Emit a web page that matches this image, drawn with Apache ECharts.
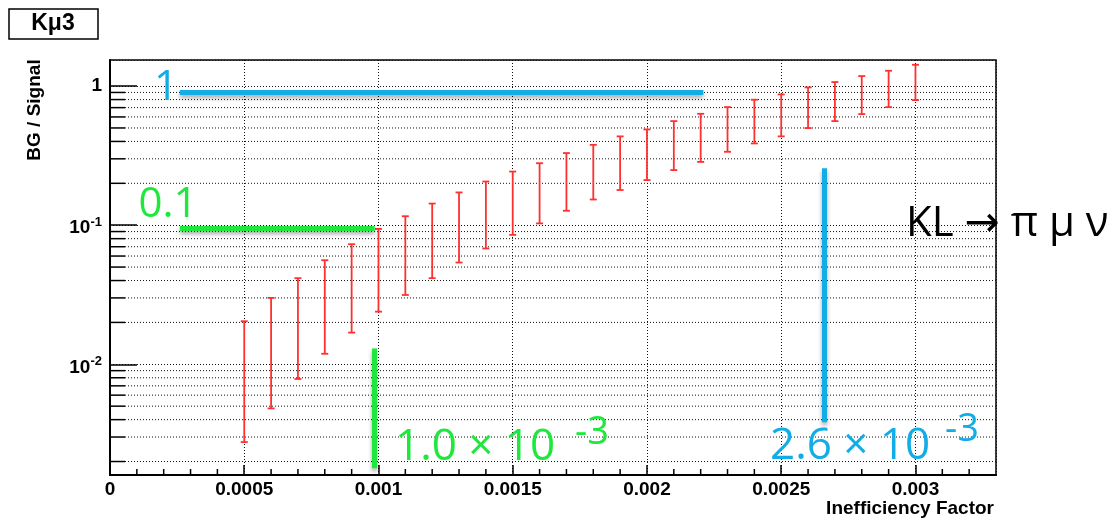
<!DOCTYPE html>
<html><head><meta charset="utf-8">
<script src="https://cdn.jsdelivr.net/npm/echarts@6/dist/echarts.min.js"></script>
<style>html,body{margin:0;padding:0;background:#fff}#c{width:1112px;height:518px}</style>
</head><body><div id="c"></div>
<script>
// ---- data ----
const xValues = [0.0005,0.0006,0.0007,0.0008,0.0009,0.0010,0.0011,0.0012,0.0013,0.0014,0.0015,0.0016,0.0017,
                 0.0018,0.0019,0.0020,0.0021,0.0022,0.0023,0.0024,0.0025,0.0026,0.0027,0.0028,0.0029,0.0030];
const errLow  = [0.00276,0.00482,0.00784,0.0119,0.0169,0.0239,0.0315,0.0416,0.0539,0.0680,0.0852,0.103,0.127,
                 0.153,0.179,0.211,0.249,0.285,0.337,0.387,0.435,0.499,0.560,0.629,0.706,0.793];
const errHigh = [0.0204,0.0300,0.0416,0.0560,0.0730,0.0940,0.116,0.143,0.172,0.206,0.243,0.279,0.330,
                 0.378,0.435,0.488,0.560,0.632,0.706,0.798,0.871,0.979,1.069,1.180,1.289,1.423];
const yMinorGrid = [0.002,0.003,0.004,0.005,0.006,0.007,0.008,0.009,
                    0.02,0.03,0.04,0.05,0.06,0.07,0.08,0.09,
                    0.2,0.3,0.4,0.5,0.6,0.7,0.8,0.9];
const xMinorTicks = [0.0001,0.0002,0.0003,0.0004,0.0006,0.0007,0.0008,0.0009,0.0011,0.0012,0.0013,0.0014,
                     0.0016,0.0017,0.0018,0.0019,0.0021,0.0022,0.0023,0.0024,0.0026,0.0027,0.0028,0.0029,
                     0.0031,0.0032];
// annotation lines (data coordinates)
const blueHLine  = [[0.00026, 0.90], [0.00221, 0.90]];
const greenHLine = [[0.00026, 0.0947], [0.000986, 0.0947]];
const greenVLine = [[0.000986, 0.0130], [0.000986, 0.00179]];
const blueVLine  = [[0.002661, 0.257], [0.002661, 0.00383]];

const BLUE = '#12ade6', GREEN = '#1ee83c', RED = '#ff3030';
const chart = echarts.init(document.getElementById('c'));
const dotted = {type:[1,2], color:'#111', width:1};
const shadow = {shadowColor:'rgba(0,0,0,0.35)', shadowBlur:4, shadowOffsetY:3};
function annoLine(pts, color){
  return [{coord:pts[0], lineStyle:Object.assign({color:color, width:5, type:'solid'}, shadow)}, {coord:pts[1]}];
}
const annoFont = '"Open Sans","DejaVu Sans",sans-serif';
const rootFont = '"Liberation Sans",Arial,sans-serif';

chart.setOption({
  animation:false,
  grid:{left:110, right:116, top:60, bottom:43, show:true, borderColor:'#000', borderWidth:1.5, backgroundColor:'transparent'},
  xAxis:{type:'value', min:0, max:0.0033, interval:0.0005,
    axisLine:{onZero:false, lineStyle:{color:'#000', width:2}},
    axisTick:{inside:true, length:10, lineStyle:{color:'#000', width:1.5}},
    axisLabel:{showMaxLabel:false, margin:5, color:'#000', fontSize:19, fontWeight:'bold', fontFamily:rootFont,
      formatter:v=>String(+(+v).toFixed(4))},
    splitLine:{show:true, lineStyle:dotted}
  },
  yAxis:{type:'log', logBase:10, min:0.0016, max:1.54,
    axisLine:{show:true, lineStyle:{color:'#000', width:2}},
    axisTick:{show:true, inside:true, length:27, lineStyle:{color:'#000', width:1.5}},
    axisLabel:{showMinLabel:false, showMaxLabel:false, margin:8, color:'#000',
      formatter:function(v){
        const e = Math.round(Math.log10(v));
        if (e === 0) return '{o|1}';
        return '{b|10}{s|' + e + '}';
      },
      rich:{
        o:{fontSize:19, fontWeight:'bold', fontFamily:rootFont, color:'#000'},
        b:{fontSize:19, fontWeight:'bold', fontFamily:rootFont, color:'#000', padding:[6,0,0,0]},
        s:{fontSize:13, fontWeight:'bold', fontFamily:rootFont, color:'#000', padding:[0,0,5,0]}
      }},
    splitLine:{show:true, lineStyle:dotted}
  },
  series:[
    { // minor y grid + ticks
      type:'custom', silent:true, z:1,
      data: yMinorGrid.map(v=>[0, v]),
      encode:{x:0, y:1},
      renderItem:function(params, api){
        const cs = params.coordSys;
        const y = api.coord([0, api.value(1)])[1];
        return {type:'group', children:[
          {type:'line', shape:{x1:cs.x+15, y1:y, x2:cs.x+cs.width, y2:y}, style:{stroke:'#111', lineWidth:1, lineDash:[1,2]}},
          {type:'line', shape:{x1:cs.x, y1:y, x2:cs.x+15, y2:y}, style:{stroke:'#000', lineWidth:1.5}}
        ]};
      }
    },
    { // minor x ticks
      type:'custom', silent:true, z:1,
      data: xMinorTicks.map(v=>[v, 0.01]),
      encode:{x:0, y:1},
      renderItem:function(params, api){
        const cs = params.coordSys;
        const x = api.coord([api.value(0), 0.01])[0];
        const b = cs.y + cs.height;
        return {type:'line', shape:{x1:x, y1:b, x2:x, y2:b-6}, style:{stroke:'#000', lineWidth:1.5}};
      }
    },
    { // error bars
      type:'custom', z:3,
      data: xValues.map((x,i)=>[x, errLow[i], errHigh[i]]),
      encode:{x:0, y:[1,2]},
      renderItem:function(params, api){
        const x = api.value(0);
        const lo = api.coord([x, api.value(1)]);
        const hi = api.coord([x, api.value(2)]);
        const w = 3.5, st = {stroke:RED, lineWidth:1.8};
        return {type:'group', children:[
          {type:'line', shape:{x1:lo[0], y1:lo[1], x2:hi[0], y2:hi[1]}, style:st},
          {type:'line', shape:{x1:lo[0]-w, y1:lo[1], x2:lo[0]+w, y2:lo[1]}, style:st},
          {type:'line', shape:{x1:hi[0]-w, y1:hi[1], x2:hi[0]+w, y2:hi[1]}, style:st}
        ]};
      },
      markLine:{silent:true, symbol:['none','none'], label:{show:false}, animation:false,
        data:[annoLine(blueHLine, BLUE), annoLine(greenHLine, GREEN), annoLine(greenVLine, GREEN), annoLine(blueVLine, BLUE)]}
    }
  ],
  graphic:[
    {type:'rect', shape:{x:9, y:9, width:89, height:30}, style:{fill:'#fff', stroke:'#000', lineWidth:1.5}},
    {type:'text', x:53, y:24, style:{text:'Kμ3', font:'bold 23px '+rootFont, fill:'#000', align:'center', verticalAlign:'middle'}},
    {type:'text', x:35, y:110, rotation:Math.PI/2, style:{text:'BG / Signal', font:'bold 19px '+rootFont, fill:'#000', align:'center', verticalAlign:'middle'}},
    {type:'text', x:994, y:509, style:{text:'Inefficiency Factor', font:'bold 19px '+rootFont, fill:'#000', align:'right', verticalAlign:'middle'}},
    {type:'text', x:166, y:88, z:10, style:{text:'1', font:'42px '+annoFont, fill:BLUE, align:'center', verticalAlign:'middle'}},
    {type:'text', x:168, y:205, z:10, style:{text:'0.1', font:'42px '+annoFont, fill:GREEN, align:'center', verticalAlign:'middle'}},
    {type:'text', x:395, y:447, z:10, style:{text:'1.0 × 10', font:'44px '+annoFont, fill:GREEN, align:'left', verticalAlign:'middle'}},
    {type:'text', x:575, y:433, z:10, style:{text:'-3', font:'38px '+annoFont, fill:GREEN, align:'left', verticalAlign:'middle'}},
    {type:'text', x:770, y:446, z:10, style:{text:'2.6 × 10', font:'44px '+annoFont, fill:BLUE, align:'left', verticalAlign:'middle'}},
    {type:'text', x:945, y:430, z:10, style:{text:'-3', font:'38px '+annoFont, fill:BLUE, align:'left', verticalAlign:'middle'}},
    {type:'text', x:906, y:224, z:10, style:{text:'KL → π μ ν', font:'42px '+annoFont, fill:'#000', align:'left', verticalAlign:'middle'}}
  ]
});
</script></body></html>
